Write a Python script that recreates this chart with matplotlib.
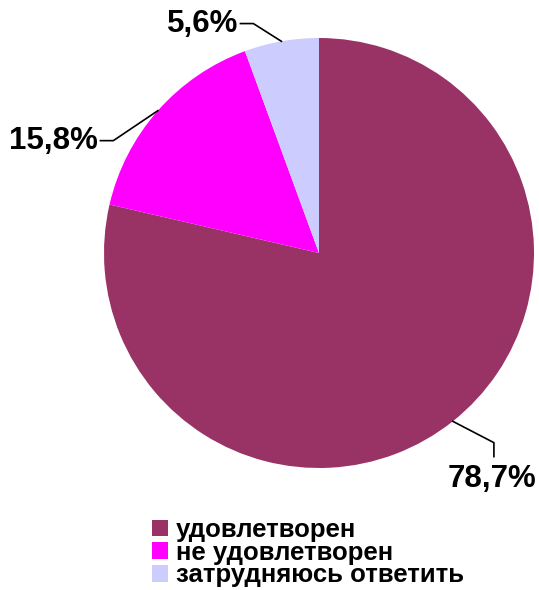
import numpy as np
import matplotlib
matplotlib.use("Agg")
import matplotlib.pyplot as plt

categories = ["удовлетворен", "не удовлетворен", "затрудняюсь ответить"]
values = [78.7, 15.8, 5.6]
value_labels = ["78,7%", "15,8%", "5,6%"]
colors = ["#993366", "#FF00FF", "#CCCCFF"]

plt.rcParams['font.family'] = ['Liberation Sans', 'DejaVu Sans']

W, H = 539, 590
fig = plt.figure(figsize=(W / 100, H / 100), dpi=100)
cx, cy, R = 319, 253, 215
ax = fig.add_axes([(cx - R) / W, (H - cy - R) / H, 2 * R / W, 2 * R / H])
wedges, _ = ax.pie(values, colors=colors, startangle=90, counterclock=False,
                   radius=1.0, wedgeprops=dict(linewidth=0))
ax.set_xlim(-1, 1)
ax.set_ylim(-1, 1)
ax.set_aspect('equal')
ax.axis('off')

specs = [
    dict(r=1.2, dang=4.2, end=(0.0, -0.065), text_off=(-0.01, -0.1), ha='center', va='top'),
    dict(r=1.09, dang=12.8, end=(-0.06, 0.0), text_off=(-0.07, 0.0), ha='right', va='center'),
    dict(r=1.11, dang=5.9, end=(-0.06, 0.0), text_off=(-0.07, 0.0), ha='right', va='center'),
]
total = sum(values)
cum = 0
for v, lab, s in zip(values, value_labels, specs):
    mid = 90 - 360 * (cum + v / 2) / total
    cum += v
    a = np.deg2rad(mid)
    p0 = (np.cos(a), np.sin(a))
    b = np.deg2rad(mid + s['dang'])
    p1 = (s['r'] * np.cos(b), s['r'] * np.sin(b))
    p2 = (p1[0] + s['end'][0], p1[1] + s['end'][1])
    ax.plot([p0[0], p1[0], p2[0]], [p0[1], p1[1], p2[1]], color='black',
            lw=1.2, clip_on=False, solid_joinstyle='miter')
    tx = p1[0] + s['text_off'][0]
    ty = p1[1] + s['text_off'][1]
    ax.text(tx, ty, lab, ha=s['ha'], va=s['va'], fontsize=22.5,
            fontweight='bold', clip_on=False)

leg = fig.legend(wedges, categories, loc='upper left',
                 bbox_to_anchor=(152 / W, 1 - 518 / H), frameon=False,
                 prop=dict(size=18.5, weight='bold'), handlelength=0.62,
                 handleheight=0.62, handletextpad=0.3, labelspacing=-0.05,
                 borderpad=0, borderaxespad=0)

fig.savefig("out.png", dpi=100, facecolor='white')
